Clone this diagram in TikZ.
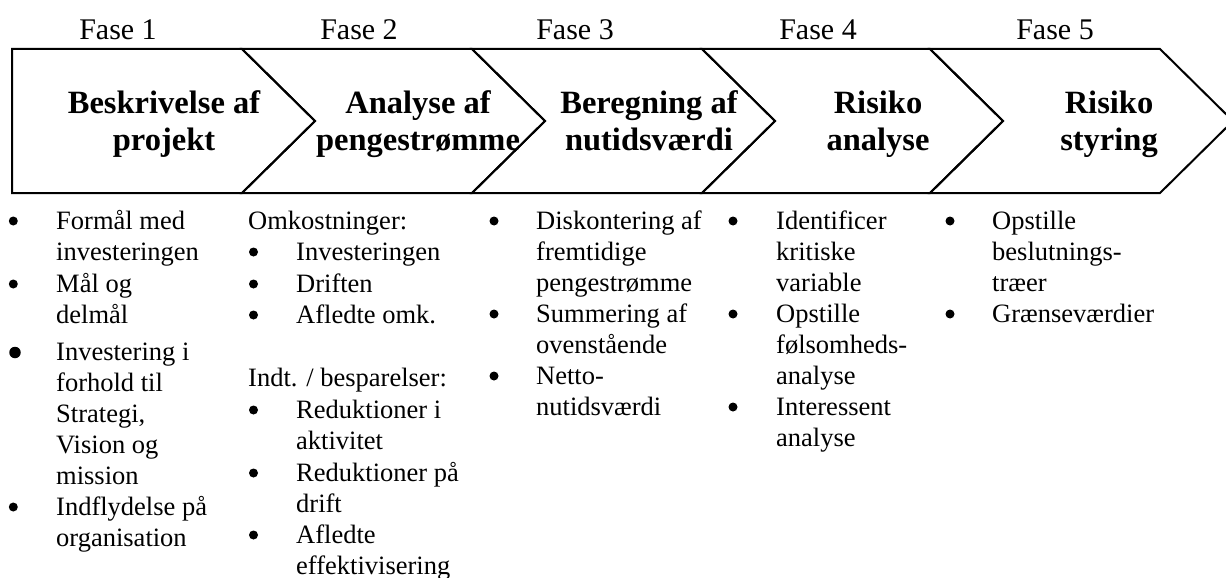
\documentclass[tikz,border=0pt]{standalone}
\usepackage{fontspec}
\setmainfont{Liberation Serif}
% stacked lines; the box's baseline is the first line's baseline
\newcommand\lstack[1]{\vtop{\halign{##\hfil\cr #1\crcr}}}
\newcommand\cstack[1]{\vtop{\halign{\hfil##\hfil\cr #1\crcr}}}
\tikzset{
  chev/.style={draw=black, line width=2pt, line join=miter},
  phase/.style={font=\fontsize{30}{34}\selectfont, anchor=base, inner sep=0pt},
  title/.style={font=\fontsize{32.5}{37}\selectfont\bfseries, anchor=base, inner sep=0pt},
  item/.style={font=\fontsize{26.5}{31}\selectfont, anchor=base west, inner sep=0pt},
  dot/.style={circle, fill=black, inner sep=0pt, minimum size=9pt},
  bigdot/.style={dot, minimum size=11.5pt},
}
% bullet sits 8 units above the baseline of its line
\newcommand\bul[3][dot]{\node[#1] (#2) at ($#3+(0,-8)$) {};}
\usetikzlibrary{calc}
\begin{document}
\begin{tikzpicture}[x=1pt, y=-1pt]
  \useasboundingbox (0,0) rectangle (1226,578);
  \clip (0,0) rectangle (1226,578);

  % process chevrons
  \draw[chev] (12,49) -- (242,49) -- (315,121) -- (242,193) -- (12,193) -- cycle;
  \foreach \l/\r in {242/472,472/702,702/930,930/1160} {
    \draw[chev] (\l,49) -- (\r,49) -- ({\r+73},121) -- (\r,193)
                -- (\l,193) -- ({\l+73},121) -- cycle;
  }

  % phase labels
  \node[phase] (f1) at (118,40)  {Fase 1};
  \node[phase] (f2) at (359,40)  {Fase 2};
  \node[phase] (f3) at (575,40)  {Fase 3};
  \node[phase] (f4) at (818,40)  {Fase 4};
  \node[phase] (f5) at (1055,40) {Fase 5};

  % chevron titles
  \node[title] (t1) at (164,113) {\cstack{Beskrivelse af\cr projekt}};
  \node[title] (t2) at (418,113) {\cstack{Analyse af\cr pengestrømme}};
  \node[title] (t3) at (649,113) {\cstack{Beregning af\cr nutidsværdi}};
  \node[title] (t4) at (878,113) {\cstack{Risiko\cr analyse}};
  \node[title] (t5) at (1109,113) {\cstack{Risiko\cr styring}};

  % phase 1
  \bul{d11}{(13.3,229)}
  \node[item] (i11) at (56,229) {\lstack{Formål med\cr investeringen}};
  \bul{d12}{(13.3,292)}
  \node[item] (i12) at (56,292) {\lstack{Mål og\cr delmål}};
  \node[bigdot] (d13) at (15,352.5) {};
  \node[item] (i13) at (56,360) {\lstack{Investering i\cr forhold til\cr Strategi,\cr Vision og\cr mission}};
  \bul{d14}{(13.3,515)}
  \node[item] (i14) at (56,515) {\lstack{Indflydelse på\cr organisation}};

  % phase 2
  \node[item] (h21) at (248,229) {Omkostninger:};
  \bul{d21}{(253.5,260)}
  \node[item] (i21) at (296,260) {Investeringen};
  \bul{d22}{(253.5,292)}
  \node[item] (i22) at (296,292) {Driften};
  \bul{d23}{(253.5,323)}
  \node[item] (i23) at (296,323) {Afledte omk.};
  \node[item] (h22) at (248,386) {Indt. / besparelser:};
  \bul{d24}{(253.5,418)}
  \node[item] (i24) at (296,418) {\lstack{Reduktioner i\cr aktivitet}};
  \bul{d25}{(253.5,481)}
  \node[item] (i25) at (296,481) {\lstack{Reduktioner på\cr drift}};
  \bul{d26}{(253.5,543)}
  \node[item] (i26) at (296,543) {\lstack{Afledte\cr effektivisering}};

  % phase 3
  \bul{d31}{(494,229)}
  \node[item] (i31) at (536,229) {\lstack{Diskontering af\cr fremtidige\cr pengestrømme}};
  \bul{d32}{(494,322)}
  \node[item] (i32) at (536,322) {\lstack{Summering af\cr ovenstående}};
  \bul{d33}{(494,384)}
  \node[item] (i33) at (536,384) {\lstack{Netto-\cr nutidsværdi}};

  % phase 4
  \bul{d41}{(733,229)}
  \node[item] (i41) at (776,229) {\lstack{Identificer\cr kritiske\cr variable}};
  \bul{d42}{(733,322)}
  \node[item] (i42) at (776,322) {\lstack{Opstille\cr følsomheds-\cr analyse}};
  \bul{d43}{(733,415)}
  \node[item] (i43) at (776,415) {\lstack{Interessent\cr analyse}};

  % phase 5
  \bul{d51}{(950,229)}
  \node[item] (i51) at (992,229) {\lstack{Opstille\cr beslutnings-\cr træer}};
  \bul{d52}{(950,322)}
  \node[item] (i52) at (992,322) {Grænseværdier};
\end{tikzpicture}
\end{document}
